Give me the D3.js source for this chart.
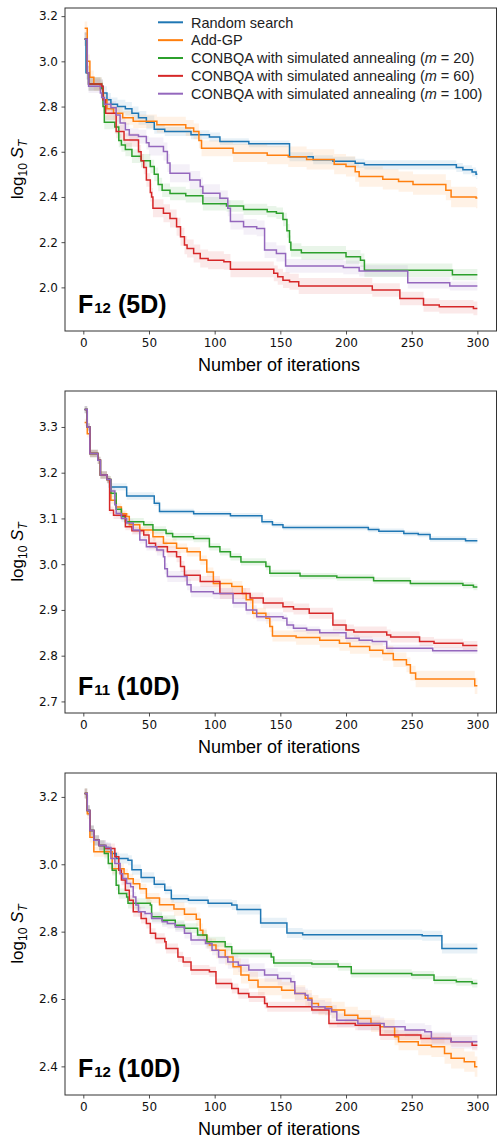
<!DOCTYPE html>
<html>
<head>
<meta charset="utf-8">
<script src="https://cdn.jsdelivr.net/npm/d3@7"></script>
<style>
    body { margin: 0; background: #fff; }
    text { font-family: "Liberation Sans", Arial, sans-serif; }
</style>
</head>
<body>
<div id="chart"></div>
<script>
//Data: iterations, method names, tick values
var nIter = 300;
var xTicks = [0, 50, 100, 150, 200, 250, 300];
var spreadAt = [1, 50, 100, 150, 200, 250, 300];
var methodNames = ["Random search", "Add-GP", "CONBQA with simulated annealing", "CONBQA with simulated annealing", "CONBQA with simulated annealing"];
var methodM = [null, null, "20", "60", "100"];
var colors = ["#1f77b4", "#ff7f0e", "#2ca02c", "#d62728", "#9467bd"];

//F12 (5D): [iteration, log10 S_T] at each step
var f12_5d_random = [[1,3.10],[2,2.95],[4,2.90],[13,2.89],[15,2.86],[18,2.83],[21,2.81],[26,2.80],[32,2.79],[37,2.77],[42,2.75],[48,2.73],[54,2.70],[62,2.69],[82,2.675],[96,2.665],[104,2.645],[126,2.635],[157,2.578],[175,2.565],[190,2.558],[207,2.549],[214,2.542],[284,2.53],[289,2.52],[296,2.51],[299,2.50]];
var f12_5d_addgp = [[1,3.146],[3,3.0],[5,2.93],[8,2.90],[13,2.88],[15,2.83],[18,2.79],[23,2.77],[30,2.75],[38,2.735],[56,2.72],[78,2.705],[84,2.69],[88,2.65],[90,2.615],[114,2.595],[140,2.585],[156,2.578],[170,2.566],[191,2.545],[200,2.535],[207,2.512],[210,2.49],[228,2.478],[240,2.468],[251,2.455],[276,2.43],[280,2.40],[299,2.395]];
var f12_5d_m20 = [[1,3.098],[3,2.95],[4,2.90],[14,2.88],[15,2.80],[16,2.73],[24,2.71],[27,2.65],[29,2.63],[32,2.61],[37,2.58],[44,2.56],[51,2.535],[54,2.50],[57,2.455],[60,2.43],[66,2.415],[78,2.405],[91,2.37],[109,2.36],[122,2.345],[140,2.335],[147,2.328],[152,2.30],[155,2.25],[157,2.20],[158,2.165],[166,2.153],[200,2.135],[211,2.12],[214,2.076],[281,2.056]];
var f12_5d_m60 = [[1,3.098],[3,2.95],[4,2.90],[14,2.89],[15,2.83],[17,2.77],[25,2.69],[31,2.652],[42,2.60],[44,2.56],[46,2.53],[48,2.475],[51,2.42],[52,2.40],[53,2.35],[61,2.328],[66,2.305],[71,2.268],[74,2.224],[77,2.187],[79,2.172],[84,2.15],[89,2.128],[95,2.12],[107,2.113],[112,2.08],[145,2.062],[148,2.047],[152,2.032],[157,2.025],[164,2.006],[220,1.988],[241,1.951],[259,1.922],[271,1.914],[297,1.907]];
var f12_5d_m100 = [[1,3.098],[3,2.95],[4,2.89],[13,2.86],[14,2.84],[16,2.81],[21,2.795],[25,2.763],[28,2.727],[32,2.697],[35,2.674],[42,2.667],[48,2.64],[50,2.623],[61,2.601],[64,2.55],[66,2.505],[81,2.475],[89,2.446],[91,2.416],[104,2.394],[110,2.35],[112,2.291],[122,2.268],[132,2.261],[138,2.165],[147,2.15],[154,2.095],[198,2.088],[210,2.073],[247,2.02],[279,2.006]];
var f12_5d_spread = [
    [0.03, 0.02, 0.015, 0.02, 0.02, 0.02, 0.025],
    [0.03, 0.035, 0.04, 0.045, 0.045, 0.045, 0.05],
    [0.03, 0.03, 0.025, 0.03, 0.03, 0.025, 0.025],
    [0.03, 0.04, 0.035, 0.035, 0.03, 0.03, 0.03],
    [0.03, 0.04, 0.035, 0.03, 0.025, 0.02, 0.02]
];
var f12_5d_yTicks = [2.0, 2.2, 2.4, 2.6, 2.8, 3.0, 3.2];

//F11 (10D)
var f11_10d_random = [[1,3.338],[3,3.30],[5,3.242],[11,3.227],[13,3.195],[18,3.187],[20,3.169],[33,3.149],[54,3.133],[58,3.115],[84,3.11],[112,3.106],[136,3.093],[144,3.086],[152,3.08],[217,3.076],[225,3.072],[244,3.067],[255,3.065],[264,3.055],[291,3.051]];
var f11_10d_addgp = [[1,3.31],[3,3.285],[5,3.242],[11,3.227],[13,3.195],[18,3.185],[21,3.14],[25,3.125],[29,3.11],[33,3.104],[35,3.086],[43,3.075],[53,3.06],[61,3.046],[71,3.035],[79,3.027],[89,3.009],[94,2.983],[99,2.958],[113,2.951],[121,2.936],[124,2.922],[129,2.893],[139,2.882],[142,2.864],[144,2.843],[162,2.84],[180,2.834],[195,2.827],[203,2.82],[218,2.812],[228,2.805],[236,2.791],[246,2.78],[249,2.762],[253,2.749],[298,2.734]];
var f11_10d_m20 = [[1,3.338],[3,3.30],[5,3.242],[11,3.227],[13,3.195],[18,3.185],[21,3.155],[25,3.12],[29,3.104],[32,3.093],[46,3.086],[53,3.075],[63,3.067],[68,3.06],[84,3.056],[96,3.038],[104,3.027],[112,3.016],[120,3.005],[139,2.995],[142,2.98],[165,2.974],[193,2.971],[221,2.964],[249,2.958],[289,2.954],[297,2.95]];
var f11_10d_m60 = [[1,3.338],[3,3.30],[5,3.242],[11,3.227],[13,3.195],[18,3.185],[20,3.118],[23,3.107],[32,3.082],[37,3.073],[46,3.064],[50,3.046],[55,3.038],[64,3.027],[71,3.016],[74,2.995],[77,2.976],[89,2.962],[104,2.936],[127,2.926],[137,2.915],[152,2.907],[160,2.902],[172,2.893],[190,2.867],[200,2.856],[206,2.852],[231,2.845],[234,2.841],[256,2.831],[267,2.827],[289,2.822]];
var f11_10d_m100 = [[1,3.338],[3,3.30],[5,3.242],[11,3.227],[13,3.195],[18,3.185],[21,3.16],[24,3.13],[25,3.111],[29,3.10],[33,3.09],[38,3.075],[43,3.053],[48,3.038],[56,3.031],[61,3.016],[62,2.99],[64,2.973],[79,2.955],[82,2.94],[99,2.936],[114,2.915],[124,2.90],[132,2.885],[152,2.882],[155,2.867],[160,2.86],[170,2.856],[180,2.85],[200,2.838],[210,2.834],[220,2.831],[231,2.816],[266,2.811]];
var f11_10d_spread = [
    [0.008, 0.006, 0.006, 0.006, 0.006, 0.006, 0.007],
    [0.008, 0.01, 0.012, 0.016, 0.016, 0.018, 0.02],
    [0.008, 0.008, 0.008, 0.007, 0.007, 0.007, 0.008],
    [0.008, 0.012, 0.012, 0.012, 0.012, 0.01, 0.008],
    [0.008, 0.012, 0.01, 0.008, 0.008, 0.007, 0.007]
];
var f11_10d_yTicks = [2.7, 2.8, 2.9, 3.0, 3.1, 3.2, 3.3];

//F12 (10D)
var f12_10d_random = [[1,3.21],[3,3.16],[5,3.10],[8,3.071],[12,3.056],[17,3.05],[19,3.047],[21,3.032],[25,3.017],[34,3.012],[37,2.984],[44,2.961],[54,2.941],[62,2.923],[67,2.898],[80,2.893],[95,2.884],[113,2.879],[117,2.866],[135,2.826],[155,2.796],[167,2.791],[258,2.788],[273,2.75]];
var f12_10d_addgp = [[1,3.21],[3,3.15],[5,3.08],[8,3.037],[22,2.987],[31,2.972],[34,2.957],[38,2.942],[43,2.927],[48,2.90],[58,2.88],[69,2.867],[77,2.852],[86,2.837],[89,2.804],[91,2.789],[94,2.77],[96,2.76],[101,2.745],[108,2.725],[114,2.696],[120,2.671],[126,2.656],[133,2.636],[151,2.626],[161,2.616],[169,2.602],[174,2.587],[179,2.577],[189,2.567],[199,2.552],[209,2.542],[219,2.527],[226,2.518],[237,2.488],[240,2.473],[255,2.463],[265,2.458],[275,2.438],[280,2.424],[290,2.414],[298,2.399]];
var f12_10d_m20 = [[1,3.21],[3,3.16],[5,3.10],[8,3.071],[12,3.056],[16,3.032],[19,3.002],[22,2.982],[25,2.938],[27,2.913],[33,2.903],[34,2.884],[51,2.879],[52,2.844],[60,2.834],[70,2.819],[77,2.81],[87,2.79],[94,2.77],[108,2.755],[113,2.735],[143,2.725],[145,2.707],[174,2.704],[194,2.696],[204,2.676],[250,2.671],[267,2.656],[284,2.651],[296,2.646]];
var f12_10d_m60 = [[1,3.21],[3,3.16],[5,3.10],[8,3.071],[12,3.056],[17,3.047],[24,3.022],[27,2.982],[29,2.953],[32,2.923],[35,2.893],[38,2.859],[44,2.839],[48,2.824],[51,2.795],[55,2.78],[62,2.77],[63,2.75],[72,2.725],[76,2.71],[82,2.686],[96,2.681],[101,2.646],[113,2.631],[118,2.616],[126,2.606],[138,2.587],[140,2.577],[174,2.567],[187,2.527],[207,2.522],[226,2.493],[257,2.483],[280,2.473],[296,2.463]];
var f12_10d_m100 = [[1,3.21],[3,3.16],[5,3.10],[8,3.071],[12,3.056],[17,3.05],[21,3.017],[24,3.002],[28,2.972],[30,2.958],[33,2.943],[36,2.933],[38,2.903],[40,2.879],[42,2.859],[47,2.854],[52,2.839],[60,2.829],[64,2.824],[70,2.814],[77,2.795],[82,2.775],[93,2.765],[98,2.745],[103,2.725],[110,2.71],[118,2.70],[126,2.686],[138,2.671],[148,2.661],[158,2.651],[161,2.616],[169,2.611],[171,2.597],[174,2.577],[184,2.572],[189,2.562],[193,2.537],[209,2.527],[229,2.518],[245,2.508],[260,2.503],[265,2.483],[280,2.473]];
var f12_10d_spread = [
    [0.015, 0.012, 0.015, 0.015, 0.015, 0.015, 0.025],
    [0.015, 0.02, 0.025, 0.025, 0.025, 0.03, 0.035],
    [0.015, 0.015, 0.012, 0.012, 0.012, 0.012, 0.012],
    [0.015, 0.015, 0.015, 0.012, 0.015, 0.015, 0.015],
    [0.015, 0.015, 0.02, 0.02, 0.02, 0.02, 0.015]
];
var f12_10d_yTicks = [2.4, 2.6, 2.8, 3.0, 3.2];

//Layout of the three axes (pixels)
var panels = [
    {fn: "F", sub: "12", dim: "(5D)", top: 8, bottom: 331, yDomain: [1.807, 3.236], yTicks: f12_5d_yTicks,
        series: [f12_5d_random, f12_5d_addgp, f12_5d_m20, f12_5d_m60, f12_5d_m100], spread: f12_5d_spread, legend: true},
    {fn: "F", sub: "11", dim: "(10D)", top: 391, bottom: 713, yDomain: [2.6747, 3.3786], yTicks: f11_10d_yTicks,
        series: [f11_10d_random, f11_10d_addgp, f11_10d_m20, f11_10d_m60, f11_10d_m100], spread: f11_10d_spread},
    {fn: "F", sub: "12", dim: "(10D)", top: 773, bottom: 1095, yDomain: [2.315, 3.271], yTicks: f12_10d_yTicks,
        series: [f12_10d_random, f12_10d_addgp, f12_10d_m20, f12_10d_m60, f12_10d_m100], spread: f12_10d_spread}
];

var svgContainer = d3.select("#chart").append("svg")
    .attr("width", 497)
    .attr("height", 1142);

var x = d3.scaleLinear().domain([-13.95, 314.95]).range([65, 497]);

function spreadOf(arr, it) {
    var j = 0;
    for (var k = 0; k < spreadAt.length; k++) {
        if (spreadAt[k] <= it) j = k;
    }
    return arr[j];
}

panels.forEach(function (p, pi) {
    var y = d3.scaleLinear().domain(p.yDomain).range([p.bottom, p.top]);
    var g = svgContainer.append("g");

    g.append("clipPath").attr("id", "clip" + pi)
        .append("rect")
        .attr("x", 65).attr("y", p.top)
        .attr("width", 432).attr("height", p.bottom - p.top);

    var plot = g.append("g").attr("clip-path", "url(#clip" + pi + ")");

    var runs = p.series.map(function (s) {
        var pts = s.slice();
        var last = pts[pts.length - 1];
        if (last[0] < nIter) pts.push([nIter, last[1]]);
        return pts;
    });

    //bands first
    runs.forEach(function (pts, i) {
        var area = d3.area()
            .curve(d3.curveStepAfter)
            .x(function (d) { return x(d[0]); })
            .y0(function (d) { return y(d[1] - spreadOf(p.spread[i], d[0])); })
            .y1(function (d) { return y(d[1] + spreadOf(p.spread[i], d[0])); });
        plot.append("path")
            .attr("d", area(pts))
            .style("fill", colors[i])
            .style("fill-opacity", 0.1)
            .style("stroke", "none");
    });

    runs.forEach(function (pts, i) {
        var line = d3.line()
            .curve(d3.curveStepAfter)
            .x(function (d) { return x(d[0]); })
            .y(function (d) { return y(d[1]); });
        plot.append("path")
            .attr("d", line(pts))
            .style("fill", "none")
            .style("stroke", colors[i])
            .style("stroke-width", 1.5);
    });

    //axes
    var yAxis = g.append("g")
        .attr("transform", "translate(65,0)")
        .call(d3.axisLeft(y).tickValues(p.yTicks).tickFormat(d3.format(".1f")).tickSize(3.5).tickPadding(3.5));
    var xAxis = g.append("g")
        .attr("transform", "translate(0," + p.bottom + ")")
        .call(d3.axisBottom(x).tickValues(xTicks).tickSize(3.5).tickPadding(3.5));
    [yAxis, xAxis].forEach(function (a) {
        a.select(".domain").remove();
        a.selectAll("line").style("stroke", "#222").style("stroke-width", 0.8);
        a.selectAll("text").style("font-family", "DejaVu Sans").style("font-size", "12px").style("fill", "#111");
    });

    g.append("rect")
        .attr("x", 65).attr("y", p.top)
        .attr("width", 431.5).attr("height", p.bottom - p.top)
        .style("fill", "none")
        .style("stroke", "#333")
        .style("stroke-width", 1);

    //axis titles
    g.append("text")
        .attr("x", 279)
        .attr("y", p.bottom + 40)
        .attr("text-anchor", "middle")
        .style("font-size", "18px")
        .text("Number of iterations");

    var yl = g.append("text")
        .attr("transform", "translate(23," + (p.top + p.bottom) / 2 + ") rotate(-90)")
        .attr("text-anchor", "middle")
        .style("font-size", "17px");
    yl.append("tspan").text("log");
    yl.append("tspan").attr("dy", 4).style("font-size", "12px").text("10");
    yl.append("tspan").attr("dy", -4).text(" ");
    yl.append("tspan").style("font-style", "italic").text("S");
    yl.append("tspan").attr("dy", 4).style("font-style", "italic").style("font-size", "12px").text("T");

    //panel label
    var lab = g.append("text")
        .attr("x", 78)
        .attr("y", p.bottom - 18)
        .style("font-weight", "bold")
        .style("font-size", "25px");
    lab.append("tspan").text(p.fn);
    lab.append("tspan").style("font-size", "15px").attr("dx", 1).text(p.sub);
    lab.append("tspan").text(" " + p.dim);

    //legend
    if (p.legend) {
        methodNames.forEach(function (name, i) {
            var ly = 22.3 + i * 17.85;
            g.append("line")
                .attr("x1", 158).attr("x2", 183)
                .attr("y1", ly).attr("y2", ly)
                .style("stroke", colors[i])
                .style("stroke-width", 2);
            var t = g.append("text")
                .attr("x", 191).attr("y", ly)
                .attr("dy", "0.36em")
                .style("font-size", "14.5px")
                .style("fill", "#222")
                .text(name);
            if (methodM[i]) {
                t.append("tspan").text(" (");
                t.append("tspan").style("font-style", "italic").text("m");
                t.append("tspan").text(" = " + methodM[i] + ")");
            }
        });
    }
});
</script>
</body>
</html>
